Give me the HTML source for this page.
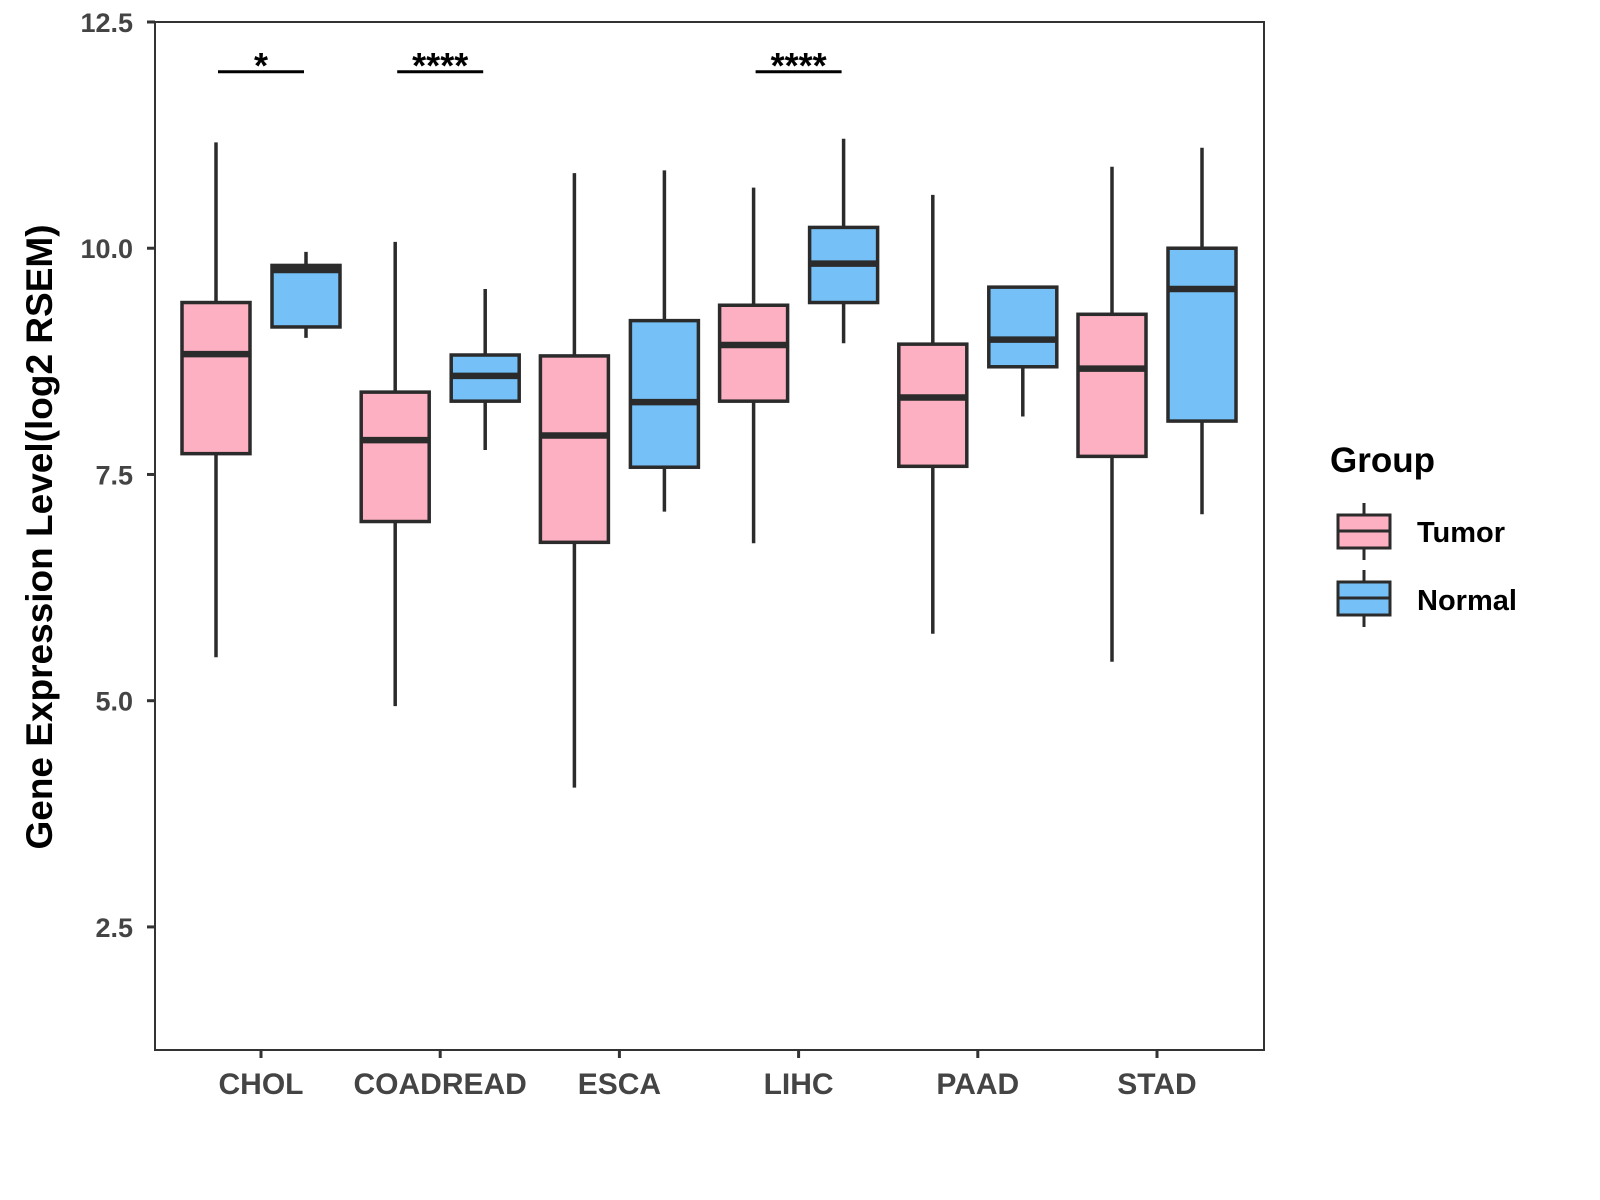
<!DOCTYPE html>
<html><head><meta charset="utf-8">
<style>
html,body{margin:0;padding:0;background:#fff;}
svg{display:block;font-family:"Liberation Sans",Arial,sans-serif;}
</style></head>
<body>
<svg id="chart" width="1600" height="1200" viewBox="0 0 1600 1200">
  <rect x="155" y="22" width="1109" height="1028" fill="none" stroke="#333" stroke-width="2"/>
  <g id="yaxis"></g>
  <g id="xaxis"></g>
  <g id="marks"></g>
  <g id="sig"></g>
  <text x="52" y="537" transform="rotate(-90 52 537)" text-anchor="middle" font-size="37" font-weight="bold" fill="#000">Gene Expression Level(log2 RSEM)</text>
  <g>
    <text x="1330" y="472" font-size="35" font-weight="bold" fill="#000">Group</text>
    <g>
      <line x1="1364" y1="503" x2="1364" y2="560" stroke="#2b2b2b" stroke-width="3"/>
      <rect x="1338" y="515" width="52" height="33" fill="#FCB0C2" stroke="#2b2b2b" stroke-width="3"/>
      <line x1="1338" y1="531" x2="1390" y2="531" stroke="#2b2b2b" stroke-width="3"/>
      <text x="1417" y="542" font-size="29" font-weight="bold" fill="#000">Tumor</text>
    </g>
    <g>
      <line x1="1364" y1="570" x2="1364" y2="627" stroke="#2b2b2b" stroke-width="3"/>
      <rect x="1338" y="582" width="52" height="33" fill="#75C1F7" stroke="#2b2b2b" stroke-width="3"/>
      <line x1="1338" y1="598" x2="1390" y2="598" stroke="#2b2b2b" stroke-width="3"/>
      <text x="1417" y="610" font-size="29" font-weight="bold" fill="#000">Normal</text>
    </g>
  </g>
</svg>
<script>
const categories = ["CHOL","COADREAD","ESCA","LIHC","PAAD","STAD"];
// [lowWhisker, q1, median, q3, highWhisker]
const tumorStats = [
  [5.48, 7.73, 8.83, 9.40, 11.17],
  [4.94, 6.98, 7.88, 8.41, 10.07],
  [4.04, 6.75, 7.93, 8.81, 10.83],
  [6.74, 8.31, 8.93, 9.37, 10.67],
  [5.74, 7.59, 8.35, 8.94, 10.59],
  [5.43, 7.70, 8.67, 9.27, 10.90]
];
const normalStats = [
  [9.01, 9.13, 9.76, 9.81, 9.96],
  [7.77, 8.31, 8.59, 8.82, 9.55],
  [7.09, 7.58, 8.30, 9.20, 10.86],
  [8.95, 9.40, 9.83, 10.23, 11.21],
  [8.14, 8.69, 8.99, 9.57, 9.57],
  [7.06, 8.09, 9.55, 10.00, 11.11]
];
const sigLabels = ["*","****","","****","",""];
const sigLevel = 11.95;
const yTicks = [2.5, 5.0, 7.5, 10.0, 12.5];
const yTickLabels = ["2.5","5.0","7.5","10.0","12.5"];

{
const NS = "http://www.w3.org/2000/svg";
const yMin = 1.14, yMax = 12.5, plotTop = 22, plotBottom = 1050;
function yScale(v){ return plotBottom - (v - yMin) / (yMax - yMin) * (plotBottom - plotTop); }
function xScale(i){ return 261 + i * 179.2; }
function mk(tag, attrs, parent){
  const e = document.createElementNS(NS, tag);
  for (const k in attrs) e.setAttribute(k, attrs[k]);
  parent.appendChild(e);
  return e;
}
const yaxis = document.getElementById('yaxis');
const xaxis = document.getElementById('xaxis');
const marks = document.getElementById('marks');
const sig = document.getElementById('sig');

yTicks.forEach((t, i) => {
  const y = yScale(t);
  const tk = mk('line', {x1:147, x2:155, y1:y, y2:y, stroke:'#333', 'stroke-width':3}, yaxis);
  
  
  const lb = mk('text', {x:133, y:y+10, 'text-anchor':'end', 'font-size':27, 'font-weight':'bold', fill:'#444'}, yaxis);
  lb.textContent = yTickLabels[i];
  
  
});

categories.forEach((c, i) => {
  const x = xScale(i);
  const tk = mk('line', {x1:x, x2:x, y1:1050, y2:1058, stroke:'#333', 'stroke-width':3}, xaxis);
  
  
  const lb = mk('text', {x:x, y:1094, 'text-anchor':'middle', 'font-size':30, 'font-weight':'bold', fill:'#444'}, xaxis);
  lb.textContent = c;
  
  
});

function drawBox(cx, s, fill, name){
  const g = mk('g', {}, marks);
  
  
  const w = 68;
  mk('line', {x1:cx, x2:cx, y1:yScale(s[4]), y2:yScale(s[0]), stroke:'#2b2b2b', 'stroke-width':3.5}, g);
  mk('rect', {x:cx-w/2, y:yScale(s[3]), width:w, height:yScale(s[1])-yScale(s[3]), fill:fill, stroke:'#2b2b2b', 'stroke-width':3.5}, g);
  mk('line', {x1:cx-w/2, x2:cx+w/2, y1:yScale(s[2]), y2:yScale(s[2]), stroke:'#2b2b2b', 'stroke-width':6.5}, g);
}
categories.forEach((c, i) => {
  drawBox(xScale(i) - 45, tumorStats[i], '#FCB0C2', 'box-tumor-' + c.toLowerCase());
  drawBox(xScale(i) + 45, normalStats[i], '#75C1F7', 'box-normal-' + c.toLowerCase());
  if (sigLabels[i]) {
    const y = yScale(sigLevel);
    const ln = mk('line', {x1:xScale(i)-43, x2:xScale(i)+43, y1:y, y2:y, stroke:'#000', 'stroke-width':3}, sig);
    
    
    const t = mk('text', {x:xScale(i), y:y+6, 'text-anchor':'middle', 'font-size':36, 'font-weight':'bold', fill:'#000'}, sig);
    t.textContent = sigLabels[i];
    
    
  }
});
}
</script>
</body></html>
